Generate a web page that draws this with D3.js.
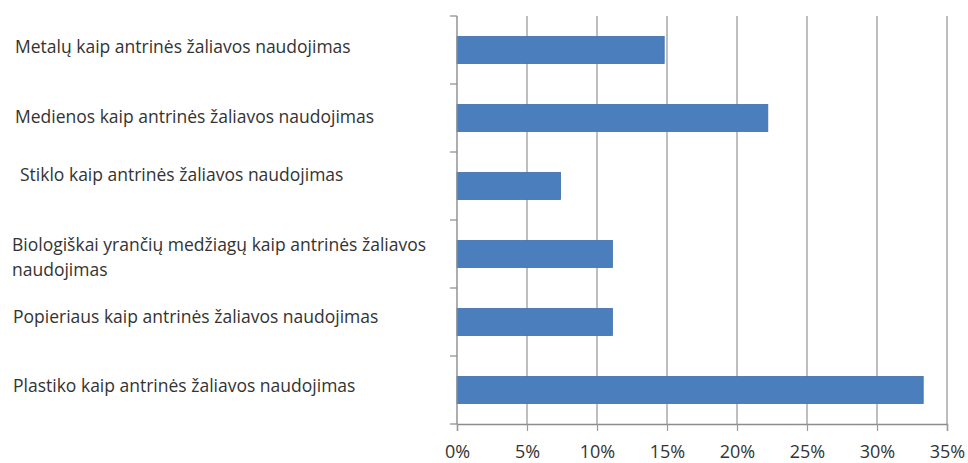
<!DOCTYPE html>
<html>
<head>
<meta charset="utf-8">
<script src="https://cdn.jsdelivr.net/npm/d3@7"></script>
<style>
  html, body { margin: 0; padding: 0; background: #fff; }
  svg { display: block; }
  text { font-family: "Open Sans", "Noto Sans", sans-serif; fill: #333; }
</style>
</head>
<body>
<svg id="chart" width="968" height="463"></svg>
<script>
// Category labels (top to bottom); multi-line labels split with "\n"
const categories = [
  "Metalų kaip antrinės žaliavos naudojimas",
  "Medienos kaip antrinės žaliavos naudojimas",
  "Stiklo kaip antrinės žaliavos naudojimas",
  "Biologiškai yrančių medžiagų kaip antrinės žaliavos\nnaudojimas",
  "Popieriaus kaip antrinės žaliavos naudojimas",
  "Plastiko kaip antrinės žaliavos naudojimas"
];
// Share of respondents, percent
const values = [14.8, 22.2, 7.4, 11.1, 11.1, 33.3];
// X axis ticks, percent
const xTicks = [0, 5, 10, 15, 20, 25, 30, 35];

// Label placement tweaks: [left x, vertical nudge from band centre]
const labelLayout = [[15, -3], [15, -1], [20, -11], [12, -9], [13, -5], [13, -4]];

const svg = d3.select("#chart");
const plotLeft = 457, plotRight = 947, plotTop = 16, plotBottom = 424;

const x = d3.scaleLinear().domain([0, 35]).range([plotLeft, plotRight]);
const band = d3.scaleBand().domain(d3.range(categories.length)).range([plotTop, plotBottom]);
const barH = 27;

// vertical gridlines
svg.append("g").selectAll("line").data(xTicks.filter(d => d > 0)).join("line")
  .attr("x1", d => x(d)).attr("x2", d => x(d))
  .attr("y1", plotTop).attr("y2", plotBottom)
  .attr("stroke", "#a3a3a3").attr("stroke-width", 1.4);

// bars
svg.append("g").selectAll("rect").data(values).join("rect")
  .attr("x", x(0))
  .attr("y", (d, i) => band(i) + band.bandwidth() / 2 - barH / 2)
  .attr("width", d => x(d) - x(0))
  .attr("height", barH)
  .attr("fill", "#4a7ebd")
  .attr("stroke", "#3f6fab").attr("stroke-width", 0.8);

// x axis
const xAxis = d3.axisBottom(x).tickValues(xTicks).tickFormat(d => d + "%").tickSize(7).tickPadding(14);
const gx = svg.append("g").attr("transform", `translate(0,${plotBottom})`).call(xAxis);
gx.select(".domain").attr("stroke", "#8c8c8c").attr("stroke-width", 1.4);
gx.selectAll(".tick line").attr("stroke", "#9a9a9a").attr("stroke-width", 1.2);
gx.selectAll(".tick text").attr("font-size", 18).attr("font-family", "Open Sans, sans-serif").attr("fill", "#3a3a3a");

// y axis line with ticks at band boundaries
const boundaries = d3.range(categories.length + 1).map(i => plotTop + i * band.step());
svg.append("line").attr("x1", plotLeft).attr("x2", plotLeft).attr("y1", plotTop).attr("y2", plotBottom)
  .attr("stroke", "#8c8c8c").attr("stroke-width", 1.4);
svg.append("g").selectAll("line").data(boundaries).join("line")
  .attr("x1", plotLeft - 7).attr("x2", plotLeft).attr("y1", d => d).attr("y2", d => d)
  .attr("stroke", "#8c8c8c").attr("stroke-width", 1.2);

// category labels
svg.append("g").selectAll("text").data(categories).join("text")
  .attr("font-size", 17.5)
  .each(function(d, i) {
    const lines = d.split("\n");
    const cy = band(i) + band.bandwidth() / 2 + labelLayout[i][1];
    const t = d3.select(this);
    lines.forEach((ln, k) => {
      t.append("tspan")
        .attr("x", labelLayout[i][0])
        .attr("y", cy + k * 25)
        .attr("dy", "0.35em")
        .text(ln);
    });
  });
</script>
</body>
</html>
